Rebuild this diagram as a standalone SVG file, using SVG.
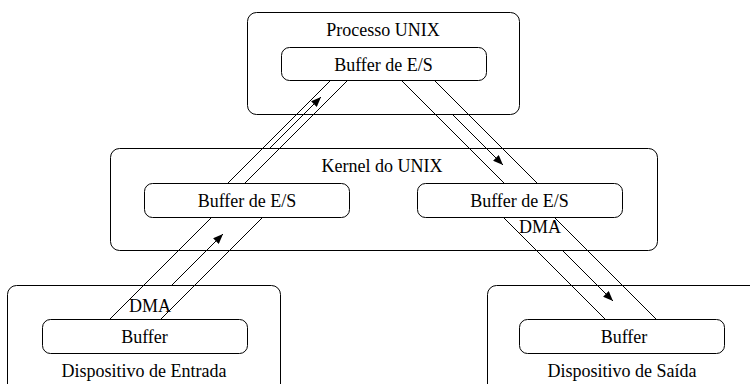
<svg xmlns="http://www.w3.org/2000/svg" width="750" height="384" viewBox="0 0 750 384">
<style>
.box{fill:none;stroke:#000;stroke-width:1}
.buf{fill:#fff;stroke:#000;stroke-width:1}
.t{font-family:'Liberation Serif','DejaVu Serif','Times New Roman',serif;font-size:18px;fill:#000;text-anchor:middle}
.ln{stroke:#000;stroke-width:1;fill:none}
.arr{stroke:#000;stroke-width:1;fill:none;marker-end:url(#ah)}
</style>
<defs>
<marker id="ah" markerWidth="10" markerHeight="8" refX="10" refY="4" orient="auto" markerUnits="userSpaceOnUse">
<path d="M0,0 L10,4 L0,8 Z" fill="#000"/>
</marker>
</defs>
<rect width="750" height="384" fill="#fff"/>
<g id="processo">
<rect class="box" x="247.5" y="12.5" width="272" height="102" rx="9"/>
<text class="t" font-family="Liberation Serif, serif" x="383" y="36">Processo UNIX</text>
</g>
<g id="processo-buffer">
<rect class="buf" x="281.5" y="47.5" width="205" height="33" rx="8"/>
<text class="t" font-family="Liberation Serif, serif" x="383.5" y="71">Buffer de E/S</text>
</g>
<g id="kernel">
<rect class="box" x="110.5" y="148.5" width="547" height="102" rx="9"/>
<text class="t" font-family="Liberation Serif, serif" x="382" y="172">Kernel do UNIX</text>
</g>
<g id="kernel-buffer-in">
<rect class="buf" x="144.5" y="183.5" width="205" height="34" rx="8"/>
<text class="t" font-family="Liberation Serif, serif" x="247" y="207">Buffer de E/S</text>
</g>
<g id="kernel-buffer-out">
<rect class="buf" x="417.5" y="183.5" width="205" height="34" rx="8"/>
<text class="t" font-family="Liberation Serif, serif" x="519.5" y="207">Buffer de E/S</text>
</g>
<g id="entrada">
<rect class="box" x="7.5" y="285.5" width="273" height="130" rx="9"/>
<text class="t" font-family="Liberation Serif, serif" x="144" y="377">Dispositivo de Entrada</text>
</g>
<g id="entrada-buffer">
<rect class="buf" x="42.5" y="319.5" width="205" height="34" rx="8"/>
<text class="t" font-family="Liberation Serif, serif" x="144.5" y="343">Buffer</text>
</g>
<g id="saida">
<rect class="box" x="487.5" y="285.5" width="300" height="130" rx="9"/>
<text class="t" font-family="Liberation Serif, serif" x="622" y="377">Dispositivo de Saída</text>
</g>
<g id="saida-buffer">
<rect class="buf" x="519.5" y="319.5" width="205" height="34" rx="8"/>
<text class="t" font-family="Liberation Serif, serif" x="624" y="343">Buffer</text>
</g>
<g id="connectors">
<line class="ln" x1="228" y1="183" x2="331" y2="80"/>
<line class="ln" x1="245" y1="183" x2="348" y2="80"/>
<line class="arr" x1="270" y1="148" x2="321" y2="97"/>
<line class="ln" x1="401" y1="80" x2="504" y2="183"/>
<line class="ln" x1="434" y1="80" x2="537" y2="183"/>
<line class="arr" x1="452" y1="114" x2="503" y2="165"/>
<line class="ln" x1="110" y1="319" x2="212" y2="217"/>
<line class="ln" x1="161" y1="319" x2="263" y2="217"/>
<line class="arr" x1="172" y1="285" x2="223" y2="234"/>
<line class="ln" x1="503" y1="217" x2="605" y2="319"/>
<line class="ln" x1="554" y1="217" x2="656" y2="319"/>
<line class="arr" x1="562" y1="250" x2="613" y2="301"/>
<text class="t" font-family="Liberation Serif, serif" x="150" y="312">DMA</text>
<text class="t" font-family="Liberation Serif, serif" x="540" y="233">DMA</text>
</g>
</svg>
